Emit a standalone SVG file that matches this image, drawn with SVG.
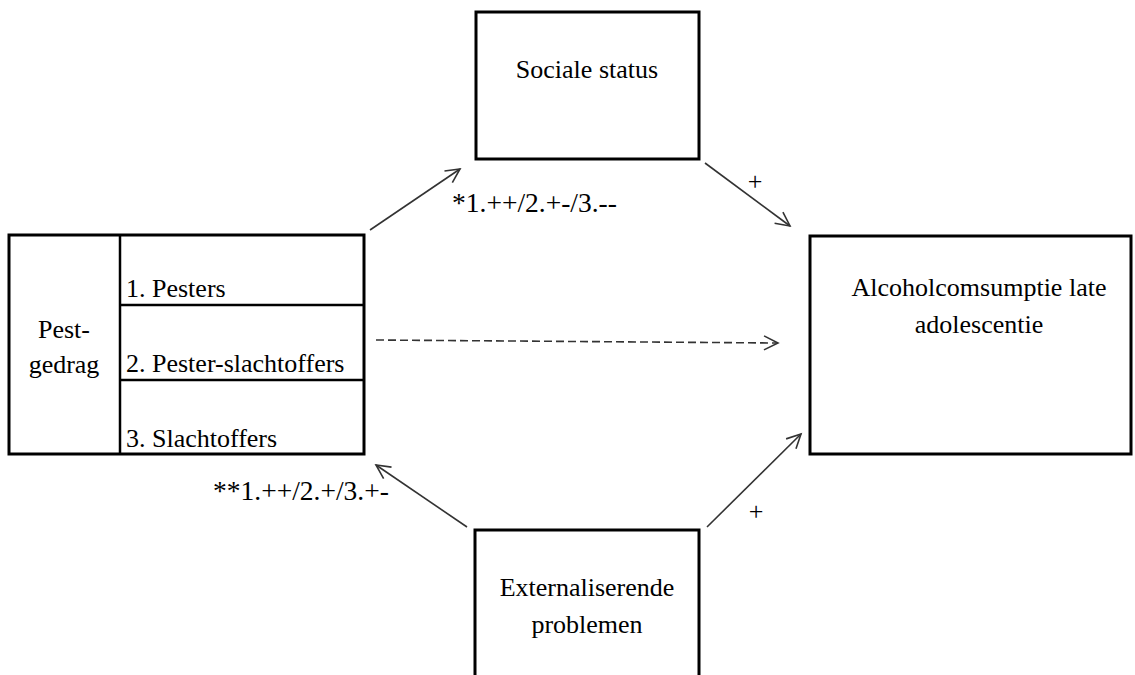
<svg xmlns="http://www.w3.org/2000/svg" width="1135" height="675" viewBox="0 0 1135 675">
<style>
.box{fill:#fff;stroke:#000;stroke-width:3}
.thin{fill:none;stroke:#000;stroke-width:2.5}
.t{font-family:"Liberation Serif","Times New Roman",serif;font-size:26px;fill:#000}
.l{font-size:27.5px}
.m{text-anchor:middle}
.c{fill:none;stroke:#333;stroke-width:1.6}
.d{stroke-dasharray:8 4}
</style>
<defs>
<marker id="ah" markerUnits="userSpaceOnUse" markerWidth="20" markerHeight="20" viewBox="0 0 20 20" refX="17" refY="10" orient="auto">
<path d="M3,3 L17,10 L3,17" fill="none" stroke="#333" stroke-width="1.6"/>
</marker>
</defs>
<g id="pestgedrag">
<rect class="box" x="9" y="235" width="355" height="219"/>
<line class="thin" x1="120" y1="235" x2="120" y2="454"/>
<line class="thin" x1="120" y1="305" x2="364" y2="305"/>
<line class="thin" x1="120" y1="380" x2="364" y2="380"/>
<text class="t m" x="64" y="338">Pest-</text>
<text class="t m" x="64" y="373">gedrag</text>
<text class="t" x="126" y="297">1. Pesters</text>
<text class="t" x="126" y="372">2. Pester-slachtoffers</text>
<text class="t" x="126" y="447">3. Slachtoffers</text>
</g>
<g id="sociale">
<rect class="box" x="476" y="12" width="223" height="147"/>
<text class="t m" x="587" y="78">Sociale status</text>
</g>
<g id="alcohol">
<rect class="box" x="810" y="236" width="321" height="218"/>
<text class="t m" x="979" y="296">Alcoholcomsumptie late</text>
<text class="t m" x="979" y="333">adolescentie</text>
</g>
<g id="externaliserende">
<rect class="box" x="475" y="530" width="224" height="160"/>
<text class="t m" x="587" y="596">Externaliserende</text>
<text class="t m" x="587" y="633">problemen</text>
</g>
<g id="connectors">
<line class="c" x1="370" y1="230" x2="460" y2="169" marker-end="url(#ah)"/>
<line class="c" x1="705" y1="163" x2="790" y2="226" marker-end="url(#ah)"/>
<line class="c d" x1="376" y1="340" x2="778" y2="343" marker-end="url(#ah)"/>
<line class="c" x1="467" y1="527" x2="376" y2="465" marker-end="url(#ah)"/>
<line class="c" x1="707" y1="527" x2="801" y2="434" marker-end="url(#ah)"/>
<text class="t l" x="452" y="212">*1.++/2.+-/3.--</text>
<text class="t l" x="213" y="500">**1.++/2.+/3.+-</text>
<text class="t m" x="755" y="190">+</text>
<text class="t m" x="756" y="520">+</text>
</g>
</svg>
